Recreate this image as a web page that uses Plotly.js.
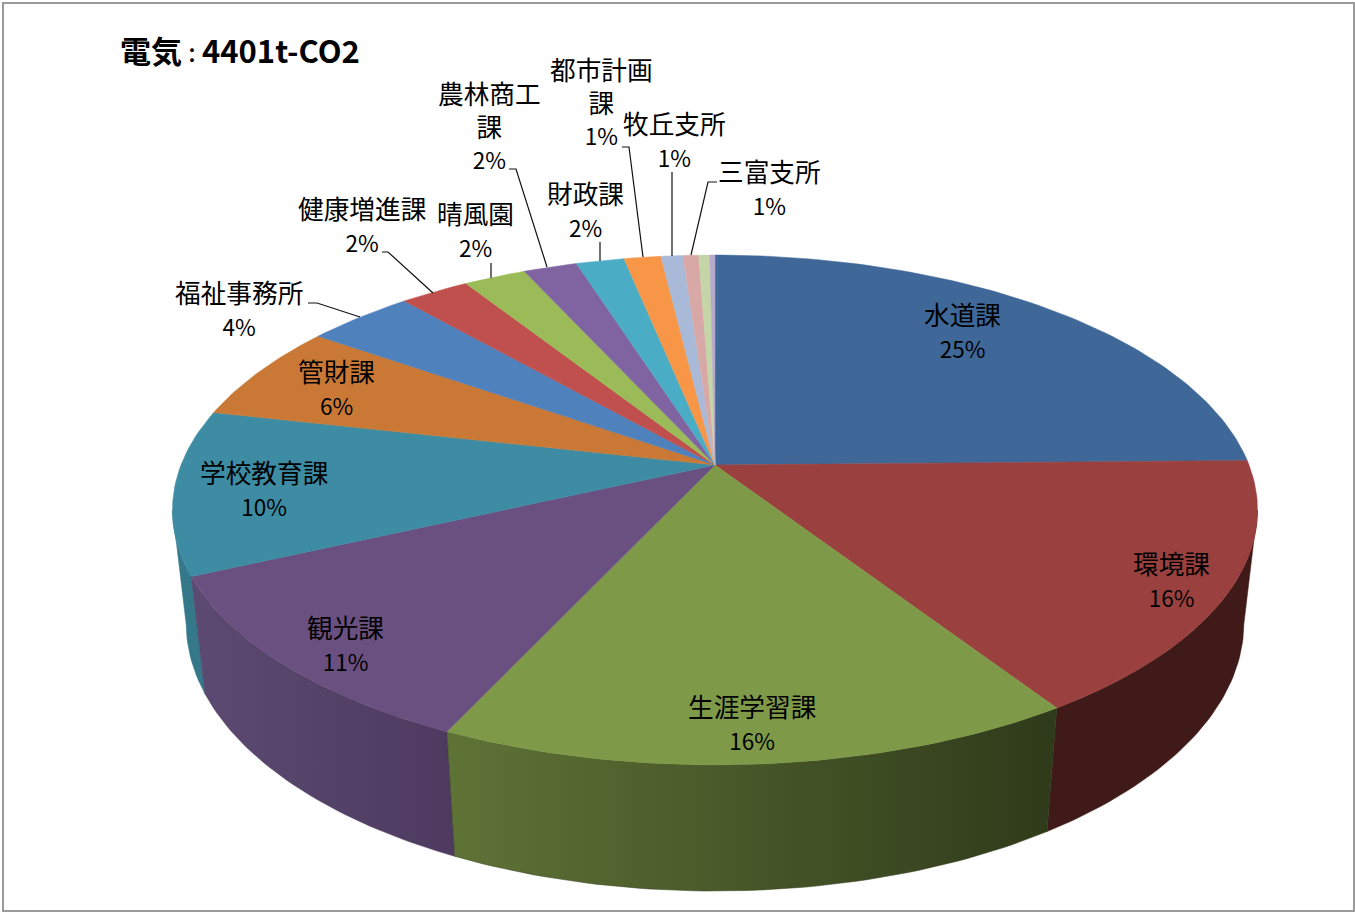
<!DOCTYPE html>
<html>
<head>
<meta charset="utf-8">
<script src="https://cdn.plot.ly/plotly-3.0.1.min.js"></script>
<style>html,body{margin:0;padding:0;background:#fff;overflow:hidden}#chart{width:1355px;height:912px}</style>
</head>
<body>
<div id="chart"></div>
<script>
// ---------- data ----------
const categories = ['水道課','環境課','生涯学習課','観光課','学校教育課','管財課','福祉事務所','健康増進課','晴風園','農林商工課','財政課','都市計画課','牧丘支所','三富支所','その他A','その他B'];
const shares = [24.7,16.1,16.1,11.2,10.4,6.2,3.8,2.45,2.2,1.9,1.7,1.3,0.77,0.56,0.39,0.18];
const topColors = ['#3F6797','#9A403E','#7E9A48','#6A5080','#3D8CA3','#C97935','#4F81BD','#C0504D','#9BBB59','#8064A2','#4BACC6','#F79646','#A9BAD8','#D8A8A7','#C4D5A8','#B7A8CC'];
const titleText = '<b>電気<span style="font-size:20px">：</span>4401t-CO2</b>';

// ---------- label layout (slice index -> text lines and centre) ----------
const labelLines = {0:['水道課'],1:['環境課'],2:['生涯学習課'],3:['観光課'],4:['学校教育課'],5:['管財課'],6:['福祉事務所'],7:['健康増進課'],8:['晴風園'],9:['農林商工','課'],10:['財政課'],11:['都市計画','課'],12:['牧丘支所'],13:['三富支所']};
const labelCentres = {0:[963,332],1:[1172,581],2:[752,724],3:[346,645],4:[264,490],5:[337,389],6:[239,310],7:[362,226],8:[476,231],9:[490,127],10:[586,211],11:[602,103],12:[675,141],13:[770,189]};
const leaders = [
  [[308,303],[317,303],[360,317]],
  [[382,252],[388,252],[433,293]],
  [[491,263],[491,278]],
  [[509,169],[516,169],[547,267]],
  [[600,242],[600,261]],
  [[622,147],[629,147],[643,257]],
  [[672,172],[672,256]],
  [[717,182],[708,182],[691,255]]
];

// ---------- perspective model of the disc ----------
const P = {cx:715, cy:465, A:534, B:247, k:0.1765, d:0.025, e:114.5};
const rad = t => t*Math.PI/180;
function topPt(t){const w=1+P.k*Math.cos(rad(t));return [P.cx+P.A*Math.sin(rad(t))/w, P.cy-P.B*Math.cos(rad(t))/w];}
function botPt(t){const w=1+P.k*Math.cos(rad(t))+P.d;return [P.cx+P.A*Math.sin(rad(t))/w, P.cy+(-P.B*Math.cos(rad(t))+P.e)/w];}
function arc(fn,a,b){const n=Math.max(2,Math.ceil(Math.abs(b-a)));const o=[];for(let i=0;i<=n;i++)o.push(fn(a+(b-a)*i/n));return o;}

const total = shares.reduce((s,v)=>s+v,0);
const bounds = [0];
shares.forEach(v=>bounds.push(bounds[bounds.length-1]+v/total*360));

// visible part of the side wall runs between the two silhouette tangents
const tangentR = Math.acos(-P.k)*180/Math.PI, tangentL = 360-tangentR;

// side-wall shading: slice index -> [left colour, right colour]
const wallShade = {1:['#3F1A18','#3F1A18'],2:['#5F7336','#2F3A1A'],3:['#5C4A72','#4E3A5F'],4:['#35788A','#35788A']};

const traces = [];
[4,3,1,2].forEach(i=>{
  const a=Math.max(bounds[i],tangentR), b=Math.min(bounds[i+1],tangentL);
  const pts = arc(topPt,a,b).concat(arc(botPt,b,a));
  pts.push(pts[0]);
  const sh = wallShade[i];
  traces.push({type:'scatter',mode:'lines',x:pts.map(p=>p[0]),y:pts.map(p=>p[1]),fill:'toself',
    line:{width:0.5,color:sh[1]},fillcolor:sh[0],
    fillgradient:{type:'horizontal',colorscale:[[0,sh[0]],[1,sh[1]]]},hoverinfo:'skip'});
});
// top faces
categories.forEach((c,i)=>{
  const pts=[[P.cx,P.cy]].concat(arc(topPt,bounds[i],bounds[i+1]));
  pts.push([P.cx,P.cy]);
  traces.push({type:'scatter',mode:'lines',name:c,x:pts.map(p=>p[0]),y:pts.map(p=>p[1]),fill:'toself',
    fillcolor:topColors[i],line:{width:0.5,color:topColors[i]},hoverinfo:'name'});
});
// leader lines
const lx=[],ly=[];
leaders.forEach(l=>{l.forEach(p=>{lx.push(p[0]);ly.push(p[1]);});lx.push(null);ly.push(null);});
traces.push({type:'scatter',mode:'lines',x:lx,y:ly,line:{color:'#111',width:1.2},hoverinfo:'skip'});

const font='"Noto Sans CJK JP","Noto Sans",sans-serif';
const annotations = Object.keys(labelLines).map(k=>{
  const i=+k;
  return {x:labelCentres[i][0]-0.5,y:labelCentres[i][1]-3,xref:'x',yref:'y',xanchor:'center',yanchor:'middle',align:'center',showarrow:false,
    text:labelLines[i].map(s=>'<span style="font-size:25.7px">'+s+'</span>').join('<br>')+'<br><span style="font-size:22.5px">'+Math.round(shares[i])+'%</span>',
    font:{family:font,size:25,color:'#000'}};
});
annotations.push({x:118,y:49.5,xref:'x',yref:'y',xanchor:'left',yanchor:'middle',showarrow:false,text:titleText,font:{family:font,size:31,color:'#000'}});

const layout = {
  width:1355,height:912,margin:{l:0,r:0,t:0,b:0},showlegend:false,
  paper_bgcolor:'#fff',plot_bgcolor:'#fff',
  xaxis:{range:[0,1355],visible:false,fixedrange:true},
  yaxis:{range:[912,0],visible:false,fixedrange:true},
  shapes:[{type:'rect',xref:'paper',yref:'paper',x0:3/1355,x1:1354/1355,y0:1-911/912,y1:1-3/912,line:{color:'#9A9A9A',width:2},fillcolor:'rgba(0,0,0,0)',layer:'below'}],
  annotations
};
Plotly.newPlot('chart',traces,layout,{displayModeBar:false});
</script>
</body>
</html>
